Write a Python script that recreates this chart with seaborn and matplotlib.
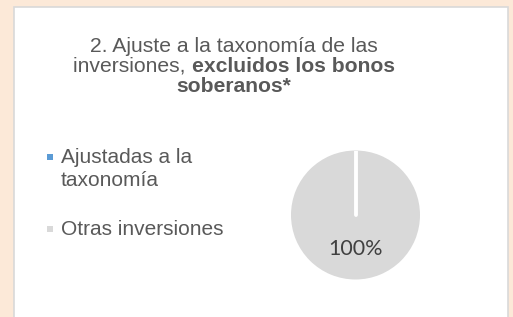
import matplotlib
matplotlib.use("Agg")
import matplotlib.pyplot as plt
import numpy as np
import seaborn as sns
from matplotlib.patches import Rectangle

# Data
categories = ["Ajustadas a la\ntaxonomía", "Otras inversiones"]
shares = [0, 100]
colors = ["#5B9BD5", "#D9D9D9"]

title_line1 = "2. Ajuste a la taxonomía de las"
title_line2_regular = "inversiones, "
title_line2_bold = "excluidos los bonos"
title_line3_bold = "soberanos*"

sns.set_theme(style="white")
plt.rcParams["font.family"] = ["Liberation Sans", "DejaVu Sans"]

W, H = 513, 317
fig = plt.figure(figsize=(W / 100, H / 100), dpi=100)
fig.patch.set_facecolor("#FCE9D8")

# white panel with grey border
panel = Rectangle((14 / W, -0.05), 494 / W, 1.05 - 7 / H, transform=fig.transFigure,
                  facecolor="white", edgecolor="#D9D9D9", linewidth=1.2, zorder=-5)
fig.patches.append(panel)

# pie
cx, cy, r = 355.5, 215, 64.5
ax = fig.add_axes([(cx - r) / W, 1 - (cy + r) / H, 2 * r / W, 2 * r / H])
ax.set_zorder(2)
ax.patch.set_alpha(0)
wedges, texts, autotexts = ax.pie(
    shares, colors=colors, startangle=90, counterclock=False,
    wedgeprops=dict(linewidth=0),
    autopct=lambda p: f"{p:.0f}%" if p > 0.5 else "",
    pctdistance=0.52, textprops=dict(color="#404040", fontsize=15.5, family="Lato"))
# white separator along the slice boundary (zero-size slice)
ang = np.deg2rad(wedges[0].theta1)
ax.plot([0, np.cos(ang)], [0, np.sin(ang)], color="white", lw=2.8,
        solid_capstyle="round", zorder=5)
ax.set_xlim(-1, 1)
ax.set_ylim(-1, 1)
ax.set_aspect("equal")
ax.axis("off")

# legend
leg_x = 61 / W
leg_items = [157, 229]
for y, label, col in zip(leg_items, categories, colors):
    fig.patches.append(Rectangle((47 / W, 1 - (y + 3) / H), 6 / W, 6 / H,
                                 transform=fig.transFigure, facecolor=col, edgecolor="none"))
    fig.text(leg_x, 1 - (y - 9) / H, label, ha="left", va="top", fontsize=15,
             color="#595959", linespacing=1.3)

# title with mixed weights
tc = "#595959"
tx = 234 / W
fs = 15.2
fig.text(tx, 1 - 46 / H, title_line1, ha="center", va="center", fontsize=fs, color=tc)
fig.canvas.draw()
rend = fig.canvas.get_renderer()
t_a = fig.text(0, 0, title_line2_regular, fontsize=fs, color=tc)
t_b = fig.text(0, 0, title_line2_bold, fontsize=fs, color=tc, weight="bold")
wa = t_a.get_window_extent(rend).width
wb = t_b.get_window_extent(rend).width
x0 = 234 - (wa + wb) / 2
t_a.set_position((x0 / W, 1 - 66 / H))
t_a.set_va("center")
t_b.set_position(((x0 + wa) / W, 1 - 66 / H))
t_b.set_va("center")
fig.text(tx, 1 - 86 / H, title_line3_bold, ha="center", va="center", fontsize=fs,
         color=tc, weight="bold")

fig.savefig("out.png", dpi=100)
